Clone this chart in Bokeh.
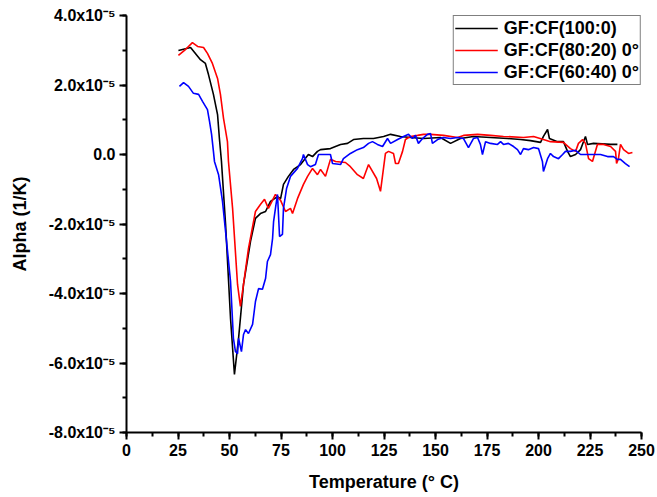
from bokeh.plotting import figure
from bokeh.models import Range1d, SingleIntervalTicker, CustomJSTickFormatter, ColumnDataSource
from bokeh.embed import file_html
from bokeh.resources import INLINE

# Temperature (°C) and alpha (in units of 1e-5 1/K)
SCALE = 1e-5

t_100_0 = [25.2, 31.1, 35.9, 38.3, 39.8, 42.2, 44.2, 45.1, 46.1, 48.1, 50.5, 52.4, 54.4, 56.8,
           60.2, 62.6, 65.0, 67.5, 69.9, 73.3, 74.8, 76.2, 78.6, 81.1, 84.5, 88.3, 90.3, 92.7,
           94.2, 99.0, 103.9, 107.3, 110.2, 115.0, 119.9, 124.8, 128.2, 133.0, 137.9, 144.2,
           152.4, 157.3, 162.1, 168.4, 176.7, 185.0, 191.3, 196.1, 201.0, 202.4, 204.4, 205.3,
           209.2, 212.1, 214.1, 215.5, 218.0, 220.4, 222.8, 223.8, 226.7, 235.0, 238.3]
a_100_0 = [2.99, 3.08, 2.73, 2.62, 2.30, 1.73, 1.15, 0.46, -0.20, -2.01, -4.72, -6.33, -5.29, -3.74,
           -2.50, -1.84, -1.70, -1.64, -1.35, -1.21, -1.27, -0.86, -0.63, -0.43, -0.29, 0.00, -0.06, 0.09,
           0.14, 0.17, 0.29, 0.32, 0.43, 0.46, 0.46, 0.52, 0.58, 0.52, 0.49, 0.46,
           0.49, 0.32, 0.46, 0.52, 0.49, 0.46, 0.43, 0.40, 0.35, 0.52, 0.72, 0.46,
           0.37, 0.37, 0.09, -0.06, 0.00, 0.14, 0.52, 0.29, 0.32, 0.29, 0.29]

t_80_20 = [25.2, 28.6, 32.0, 34.5, 37.4, 39.3, 41.7, 44.2, 45.6, 47.1, 49.0, 49.5, 51.5, 53.9,
           55.3, 56.8, 59.2, 62.6, 65.0, 67.0, 68.9, 72.3, 74.8, 77.2, 79.6, 80.6, 83.0, 85.9,
           87.9, 90.3, 92.7, 94.2, 96.6, 99.0, 101.5, 106.3, 108.7, 112.1, 115.0, 117.5, 121.4,
           123.3, 125.7, 127.2, 129.6, 130.6, 132.0, 134.0, 135.4, 137.9, 141.3, 144.2, 147.6,
           153.9, 160.7, 163.6, 170.4, 176.7, 183.0, 192.7, 197.6, 202.4, 205.8, 212.1, 215.5,
           218.0, 219.4, 221.4, 222.8, 224.3, 226.2, 228.6, 231.6, 235.0, 237.4, 237.9, 238.8,
           239.8, 241.3, 243.7, 245.6]
a_80_20 = [2.85, 3.02, 3.22, 3.11, 3.08, 2.91, 2.62, 2.19, 1.73, 1.04, 0.37, -0.20, -1.55, -3.74,
           -4.37, -3.74, -2.71, -1.64, -1.44, -1.29, -1.55, -1.15, -1.32, -1.64, -1.55, -1.70, -1.27, -0.86,
           -0.63, -0.40, -0.58, -0.43, -0.63, -0.14, -0.20, -0.23, -0.35, -0.58, -0.69, -0.29, -0.69,
           -1.06, 0.03, 0.09, 0.03, -0.26, -0.26, 0.09, 0.43, 0.52, 0.55, 0.58, 0.58,
           0.55, 0.49, 0.55, 0.58, 0.55, 0.52, 0.49, 0.52, 0.43, 0.37, 0.35, 0.17,
           0.09, 0.32, 0.43, 0.32, -0.12, -0.20, 0.29, 0.29, 0.23, 0.09, -0.26, -0.12,
           0.29, 0.14, 0.03, 0.06]

t_60_40 = [25.7, 27.7, 30.1, 32.5, 35.0, 36.9, 39.3, 40.3, 41.3, 42.2, 42.7, 44.7, 46.6, 48.1,
           50.5, 51.9, 52.9, 53.9, 54.4, 55.8, 56.8, 57.8, 59.2, 61.2, 62.6, 64.1, 66.0, 67.5,
           68.4, 69.9, 70.9, 71.4, 72.3, 73.3, 74.3, 75.7, 76.2, 77.7, 79.6, 83.0, 85.4, 85.9,
           87.9, 89.3, 91.7, 93.2, 96.6, 99.0, 100.0, 103.9, 105.3, 108.7, 112.1, 115.0, 117.5,
           119.4, 121.8, 124.3, 126.7, 128.2, 131.6, 134.5, 136.9, 138.8, 140.3, 141.7, 143.7,
           146.1, 147.6, 148.5, 151.0, 153.9, 157.3, 160.7, 163.6, 166.0, 168.4, 170.4, 171.8,
           172.8, 174.3, 176.7, 180.1, 181.6, 183.0, 185.4, 187.9, 189.8, 191.3, 192.7, 195.1,
           197.6, 200.0, 201.9, 202.4, 204.4, 205.8, 207.3, 209.7, 211.7, 213.1, 215.5, 218.0,
           220.4, 225.2, 230.1, 233.5, 236.4, 238.3, 239.8, 242.2, 244.2]
a_60_40 = [1.96, 2.07, 1.96, 1.76, 1.73, 1.53, 1.29, 0.95, 0.58, 0.09, -0.20, -0.58, -1.35, -2.22,
           -3.65, -5.29, -5.67, -5.73, -5.29, -5.67, -5.18, -5.04, -5.15, -4.89, -4.23, -3.86, -3.88, -3.57,
           -3.08, -2.88, -2.42, -1.93, -1.55, -1.15, -2.36, -2.30, -1.55, -0.98, -0.63, -0.40, -0.12, 0.00,
           -0.29, -0.35, -0.29, 0.00, 0.00, 0.00, -0.26, -0.29, -0.12, 0.03, 0.14, 0.20, 0.32,
           0.37, 0.29, 0.23, 0.46, 0.32, 0.43, 0.52, 0.58, 0.46, 0.55, 0.32, 0.46,
           0.58, 0.60, 0.32, 0.43, 0.49, 0.46, 0.49, 0.46, 0.20, 0.46, 0.49, 0.29,
           0.00, 0.37, 0.32, 0.29, 0.37, 0.29, 0.32, 0.23, 0.14, 0.00, 0.17, 0.14,
           0.20, 0.17, -0.20, -0.49, -0.12, 0.03, -0.06, -0.12, 0.00, 0.09, 0.09, 0.12,
           0.00, 0.00, 0.00, -0.06, -0.06, -0.14, -0.14, -0.26, -0.35]

series = [
    ("GF:CF(100:0)", t_100_0, a_100_0, "black"),
    ("GF:CF(80:20) 0°", t_80_20, a_80_20, "#ff0000"),
    ("GF:CF(60:40) 0°", t_60_40, a_60_40, "#0000ff"),
]

FONT = "Liberation Sans"

p = figure(width=657, height=497, output_backend="svg", toolbar_location=None,
           x_range=Range1d(0, 250), y_range=Range1d(-8e-5, 4e-5),
           min_border_left=126, min_border_right=16, min_border_top=15, min_border_bottom=65)
p.outline_line_color = None
p.xgrid.visible = False
p.ygrid.visible = False
p.background_fill_color = "white"
p.border_fill_color = "white"

for name, t, a, col in series:
    src = ColumnDataSource(dict(x=t, y=[v * SCALE for v in a]))
    p.line("x", "y", source=src, line_color=col, line_width=1.6, legend_label=name)

p.xaxis.ticker = SingleIntervalTicker(interval=25, num_minor_ticks=2)
p.yaxis.ticker = SingleIntervalTicker(interval=2e-5, num_minor_ticks=2)
p.yaxis.formatter = CustomJSTickFormatter(code="""
const v = Math.round(tick * 1e6) / 10;
if (Math.abs(v) < 1e-9) { return '0.0'; }
return v.toFixed(1) + 'x10\u207b\u2075';
""")

for ax in (p.xaxis[0], p.yaxis[0]):
    ax.axis_line_width = 2
    ax.axis_line_color = "black"
    ax.major_tick_line_width = 2
    ax.minor_tick_line_width = 2
    ax.major_tick_in = 0
    ax.major_tick_out = 7
    ax.minor_tick_in = 0
    ax.minor_tick_out = 4
    ax.major_label_text_font = FONT
    ax.major_label_text_font_style = "bold"
    ax.major_label_text_font_size = "16px"
    ax.major_label_text_color = "black"
    ax.axis_label_text_font = FONT
    ax.axis_label_text_font_style = "bold"
    ax.axis_label_text_font_size = "18px"
    ax.axis_label_text_color = "black"

p.xaxis.axis_label = "Temperature (° C)"
p.yaxis.axis_label = "Alpha (1/K)"
p.xaxis.major_label_standoff = 4
p.xaxis.axis_label_standoff = 13
p.yaxis.major_label_standoff = 4
p.yaxis.axis_label_standoff = 16

lg = p.legend[0]
lg.location = "top_right"
lg.margin = 0
lg.padding = 1
lg.spacing = 0
lg.glyph_width = 43
lg.glyph_height = 22
lg.label_height = 22
lg.label_standoff = 6
lg.label_text_font = FONT
lg.label_text_font_style = "bold"
lg.label_text_font_size = "18px"
lg.label_text_color = "black"
lg.border_line_color = "black"
lg.border_line_width = 1.5
lg.background_fill_alpha = 1

open("out.html", "w").write(file_html(p, INLINE))
